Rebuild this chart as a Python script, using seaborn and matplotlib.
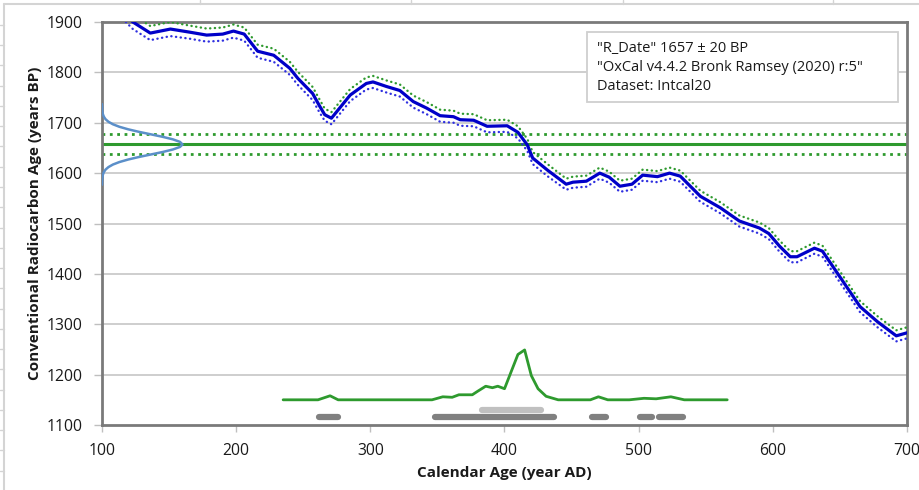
import numpy as np
import pandas as pd
import matplotlib
matplotlib.use("Agg")
import matplotlib.pyplot as plt
from matplotlib.lines import Line2D
from matplotlib.patches import Rectangle
import seaborn as sns

# ---------------- data ----------------
R_DATE = 1657
R_ERR = 20

cal_year = [100, 110, 123, 136, 151, 165, 178, 190, 198, 206, 216, 228, 240, 246, 257,
            262, 266, 271, 285, 297, 302, 312, 322, 332, 342, 352, 362, 367, 377, 387,
            402, 410, 417, 421, 432, 446, 451, 461, 471, 478, 486, 495, 503, 514, 523,
            531, 546, 561, 575, 590, 597, 605, 613, 618, 631, 637, 650, 665, 678, 692, 700]
cal_bp = [1960, 1935, 1900, 1878, 1886, 1880, 1874, 1876, 1882, 1876, 1842, 1834, 1808, 1788, 1758,
          1734, 1716, 1709, 1755, 1778, 1781, 1772, 1764, 1742, 1729, 1714, 1712, 1706, 1705, 1693,
          1694, 1681, 1656, 1630, 1606, 1578, 1582, 1584, 1600, 1592, 1574, 1578, 1596, 1593, 1600,
          1594, 1554, 1531, 1505, 1491, 1480, 1455, 1434, 1434, 1451, 1445, 1394, 1335, 1305, 1277, 1283]
cal_err = [14, 14, 14, 14, 14, 13, 13, 13, 13, 13, 13, 13, 13, 13, 13,
           13, 12, 12, 12, 12, 12, 12, 12, 12, 12, 12, 12, 12, 12, 12,
           12, 12, 12, 12, 12, 11, 11, 11, 11, 11, 11, 11, 11, 11, 11,
           11, 11, 11, 11, 11, 11, 11, 11, 11, 11, 11, 11, 11, 11, 11, 11]

# radiocarbon measurement density (drawn on the y axis)
dens_bp = [1737, 1732, 1727, 1722, 1717, 1712, 1707, 1702, 1697, 1692, 1687, 1682, 1677, 1672,
           1667, 1662, 1657, 1652, 1647, 1642, 1637, 1632, 1627, 1622, 1617, 1612, 1607,
           1602, 1597, 1592, 1587, 1582, 1577]
dens_val = [0.000, 0.001, 0.002, 0.005, 0.011, 0.023, 0.044, 0.080, 0.135, 0.216, 0.325, 0.458,
            0.607, 0.755, 0.882, 0.969, 1.000, 0.969, 0.882, 0.755, 0.607, 0.458, 0.325, 0.216,
            0.135, 0.080, 0.044, 0.023, 0.011, 0.005, 0.002, 0.001, 0.000]

# calibrated probability distribution (plotted on radiocarbon scale)
prob_year = [235, 261, 270, 276, 346, 354, 361, 366, 376, 380, 386, 391, 395, 400, 410,
             415, 420, 425, 431, 440, 464, 470, 477, 493, 504, 513, 524, 534, 566]
prob_bp = [1150, 1150, 1158, 1150, 1150, 1156, 1155, 1160, 1160, 1167, 1177, 1174, 1177, 1172, 1240,
           1249, 1198, 1172, 1157, 1150, 1150, 1156, 1150, 1150, 1153, 1152, 1156, 1150, 1150]

# probability ranges
range95_start = [262, 348, 465, 501, 515]
range95_end = [276, 437, 476, 510, 533]
range68_start = [383]
range68_end = [427]

info_lines = ['"R_Date" 1657 \u00b1 20 BP',
              '"OxCal v4.4.2 Bronk Ramsey (2020) r:5"',
              'Dataset: Intcal20']

x_ticks = [100, 200, 300, 400, 500, 600, 700]
y_ticks = [1100, 1200, 1300, 1400, 1500, 1600, 1700, 1800, 1900]

# ---------------- figure ----------------
sns.set_theme(style="white")
plt.rcParams['font.family'] = ['Open Sans', 'DejaVu Sans']

W, H = 920, 490
fig = plt.figure(figsize=(W / 100, H / 100), dpi=100)
fig.patch.set_facecolor("white")


def fx(px):
    return px / W


def fy(py):
    return 1 - py / H


# spreadsheet background lines
sheet_c = "#d4d4d4"
fig.add_artist(Line2D([fx(4), 1], [fy(4), fy(4)], color=sheet_c, lw=1.5, transform=fig.transFigure))
fig.add_artist(Line2D([fx(4), fx(4)], [fy(4), 0], color=sheet_c, lw=1.5, transform=fig.transFigure))
for cx in [200, 411, 623, 833]:
    fig.add_artist(Line2D([fx(cx), fx(cx)], [1, fy(4)], color=sheet_c, lw=1, transform=fig.transFigure))
for k in range(24):
    ry = 25 + 20.25 * k
    fig.add_artist(Line2D([0, fx(4)], [fy(ry), fy(ry)], color=sheet_c, lw=1, transform=fig.transFigure))

ax = fig.add_axes([fx(102), fy(425), (907 - 102) / W, (425 - 22) / H])
ax.set_xlim(100, 700)
ax.set_ylim(1100, 1900)

cal = pd.DataFrame({"year": cal_year, "bp": cal_bp, "err": cal_err})
cal["upper"] = cal["bp"] + cal["err"]
cal["lower"] = cal["bp"] - cal["err"]

# gridlines
for yt in y_ticks[1:-1]:
    ax.axhline(yt, color="#c6c6c6", lw=1.2, zorder=0)

# calibration curve
dot_style = (0, (0.1, 1.9))
sns.lineplot(data=cal, x="year", y="upper", ax=ax, color="#2f9a2f", lw=1.7,
             linestyle=dot_style, dash_capstyle="round", zorder=3)
sns.lineplot(data=cal, x="year", y="lower", ax=ax, color="#2f2fe0", lw=1.7,
             linestyle=dot_style, dash_capstyle="round", zorder=3)
sns.lineplot(data=cal, x="year", y="bp", ax=ax, color="#0000c8", lw=2.3,
             solid_joinstyle="round", zorder=4)

# measurement lines
ax.axhline(R_DATE, color="#2e9a2e", lw=2.2, zorder=2)
ax.axhline(R_DATE + R_ERR, color="#2e9a2e", lw=2, linestyle=":", zorder=2)
ax.axhline(R_DATE - R_ERR, color="#2e9a2e", lw=2, linestyle=":", zorder=2)

# density on the y axis
dens = pd.DataFrame({"bp": dens_bp, "x": [100 + 60 * v for v in dens_val]})
sns.lineplot(data=dens, x="x", y="bp", ax=ax, orient="y", sort=False, color="#5b8fc9", lw=1.8, zorder=5)

# calibrated distribution
prob = pd.DataFrame({"year": prob_year, "bp": prob_bp})
sns.lineplot(data=prob, x="year", y="bp", ax=ax, color="#2e9a2e", lw=2, zorder=3)

# ranges
for s, e in zip(range95_start, range95_end):
    ax.plot([s, e], [1115, 1115], color="#808080", lw=4.5, solid_capstyle="round", zorder=3)
for s, e in zip(range68_start, range68_end):
    ax.plot([s, e], [1130, 1130], color="#c0c0c0", lw=4.5, solid_capstyle="round", zorder=3)

# axes styling
ax.set_xticks(x_ticks)
ax.set_yticks(y_ticks)
ax.set_xticklabels([str(t) for t in x_ticks])
ax.set_yticklabels([str(t) for t in y_ticks])
ax.tick_params(axis="x", direction="out", length=5, width=1, color="#bfbfbf", pad=8,
               labelsize=11.3, labelcolor="#1a1a1a", bottom=True)
ax.tick_params(axis="y", direction="out", length=6, width=1, color="#bfbfbf", pad=8,
               labelsize=11.3, labelcolor="#1a1a1a", left=True)
for side in ["left", "bottom", "top", "right"]:
    ax.spines[side].set_visible(True)
    ax.spines[side].set_color("#7a7a7a")
    ax.spines[side].set_linewidth(2)
ax.set_xlabel("")
ax.set_ylabel("")

fig.text(fx(35), fy(223), "Conventional Radiocarbon Age (years BP)", rotation=90,
         ha="center", va="center", fontsize=11, fontweight="bold", color="#1a1a1a")
fig.text(fx(504), fy(473), "Calendar Age (year AD)", ha="center", va="center",
         fontsize=11, fontweight="bold", color="#1a1a1a")

# info box
fig.add_artist(Rectangle((fx(587), fy(102)), (898 - 587) / W, (102 - 32) / H,
                         transform=fig.transFigure, facecolor="white",
                         edgecolor="#cfcfcf", lw=1.3, zorder=5))
for i, line in enumerate(info_lines):
    fig.text(fx(597), fy(48 + 19.5 * i), line, ha="left", va="center",
             fontsize=10.5, color="#1a1a1a", zorder=6)

fig.savefig("out.png", dpi=100, facecolor="white")
